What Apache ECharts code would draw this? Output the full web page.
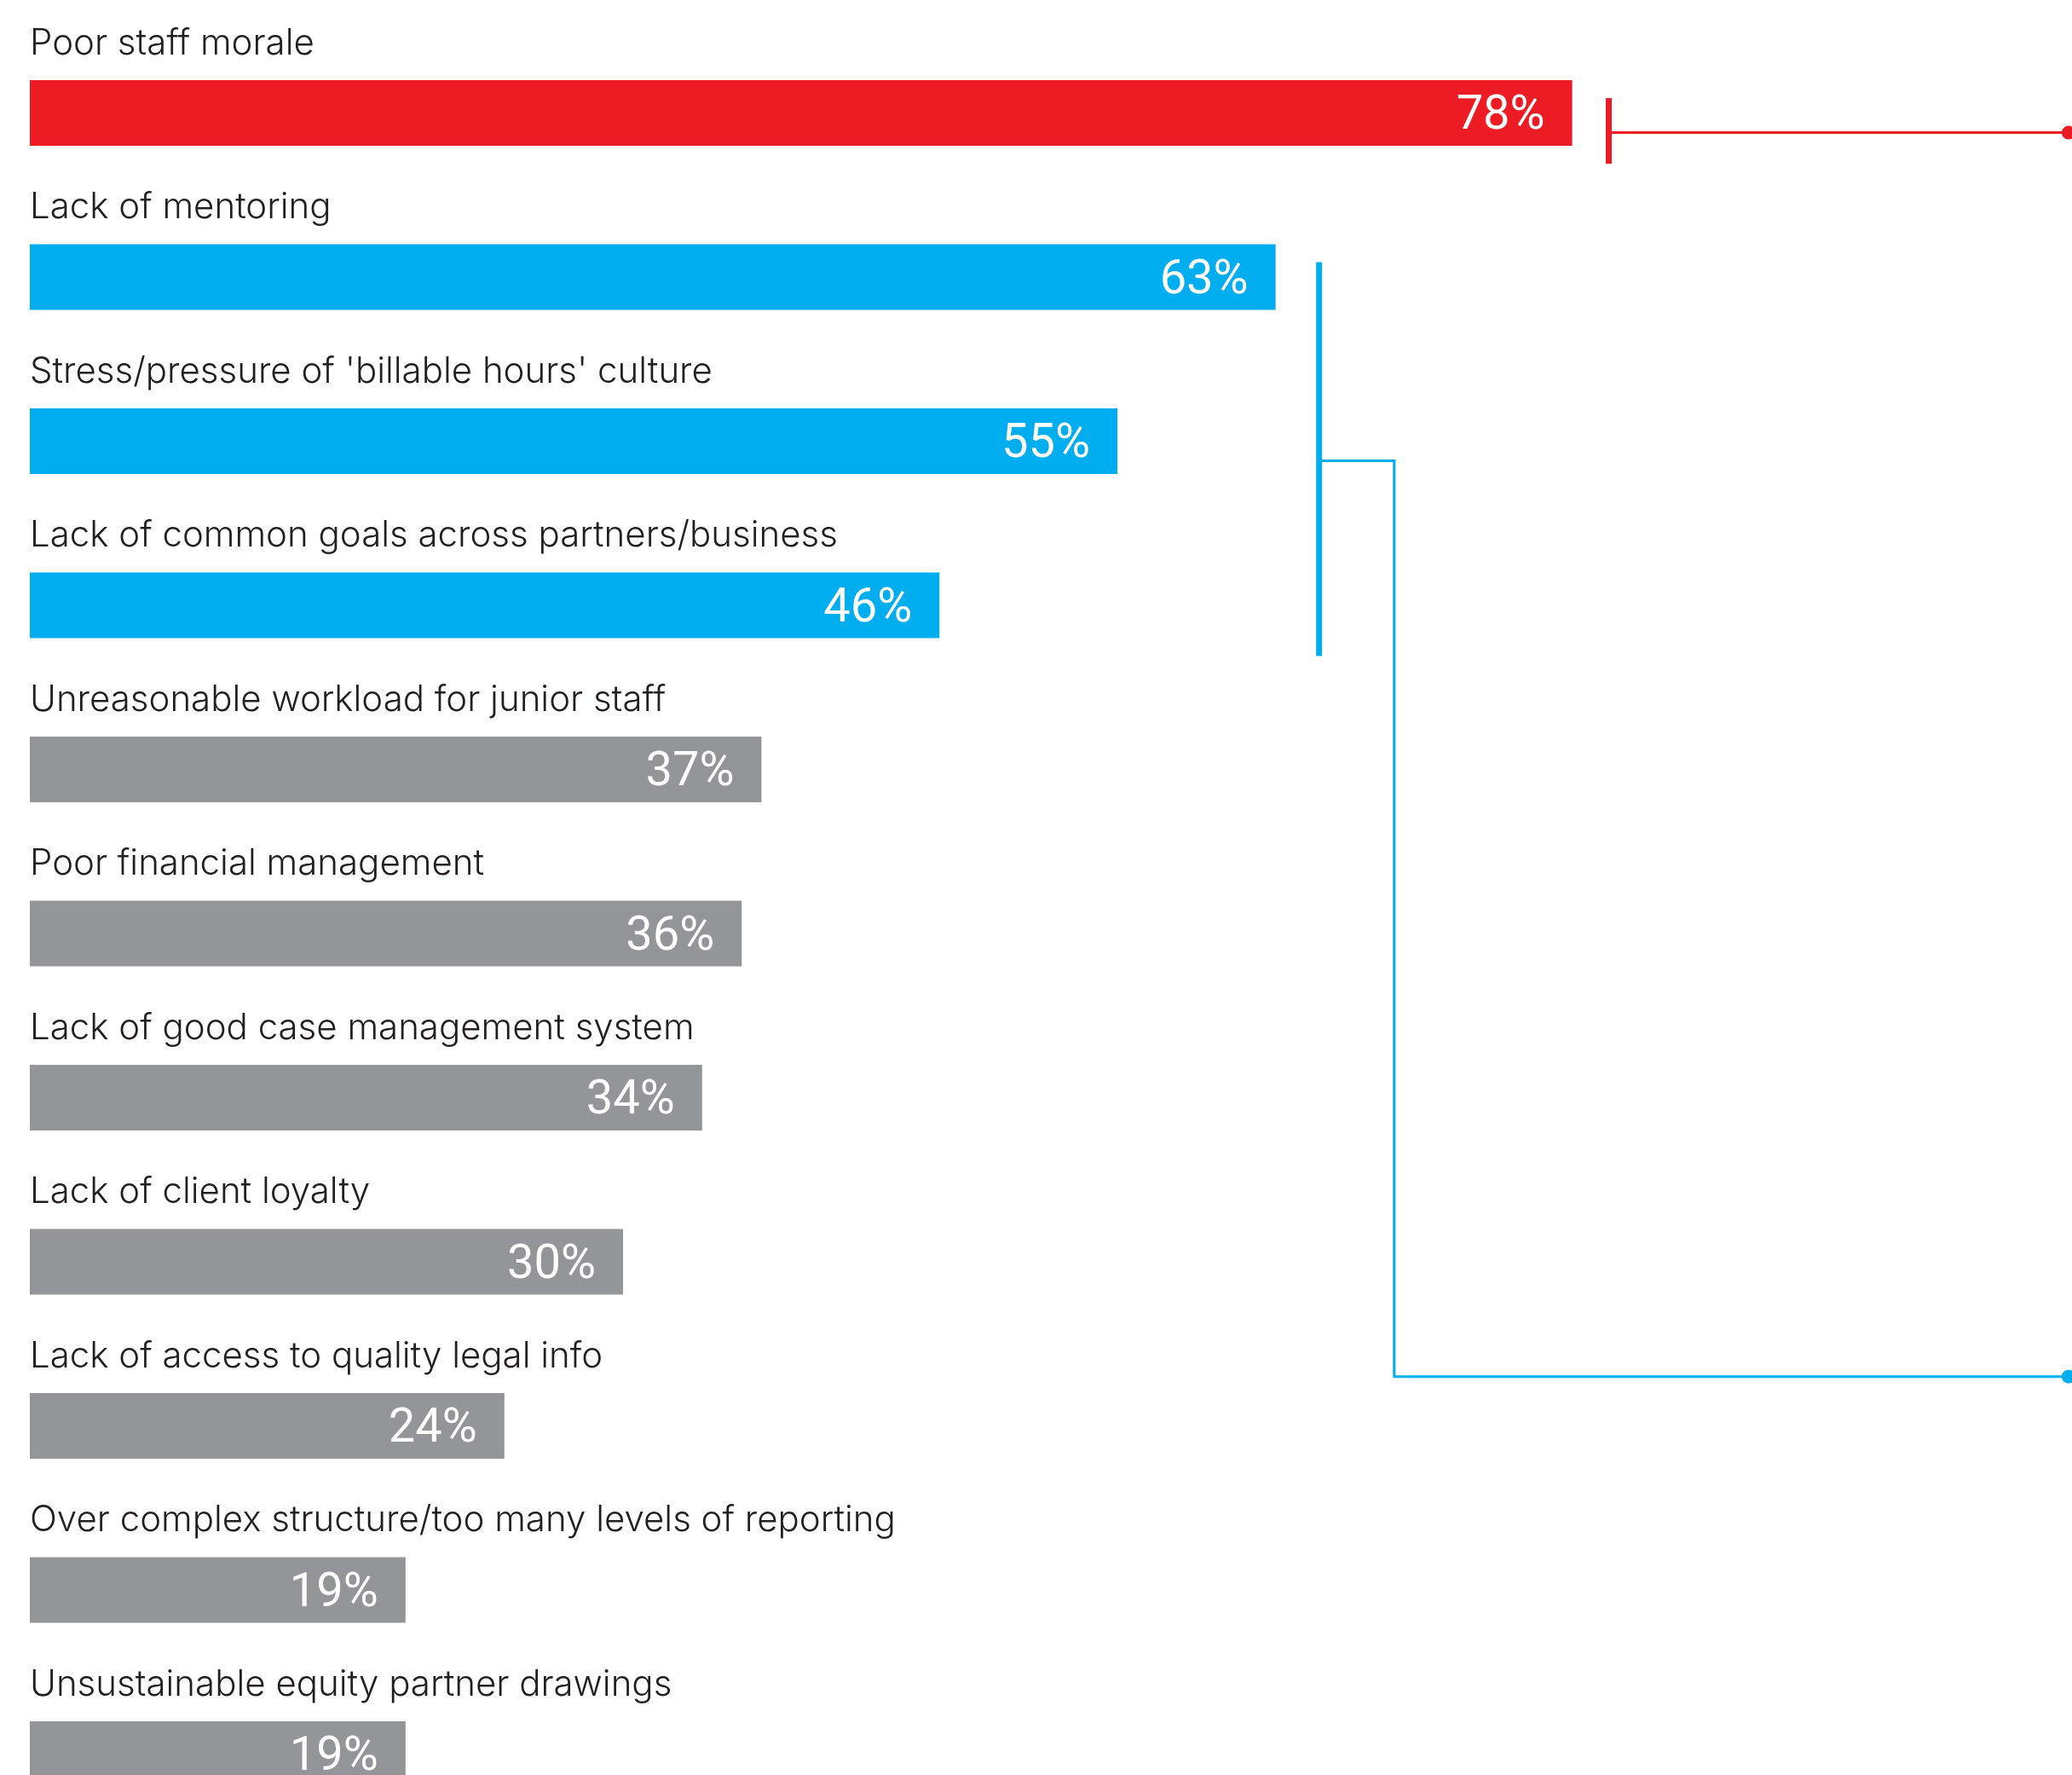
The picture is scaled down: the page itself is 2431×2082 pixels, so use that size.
<!DOCTYPE html>
<html>
<head>
<meta charset="utf-8">
<script src="https://cdn.jsdelivr.net/npm/echarts@6/dist/echarts.min.js"></script>
<style>
  html, body { margin: 0; padding: 0; background: #ffffff; }
  #chart { width: 2431px; height: 2082px; }
</style>
</head>
<body>
<div id="chart"></div>
<script>
// Reasons given, top to bottom
const categories = [
  'Poor staff morale',
  'Lack of mentoring',
  "Stress/pressure of 'billable hours' culture",
  'Lack of common goals across partners/business',
  'Unreasonable workload for junior staff',
  'Poor financial management',
  'Lack of good case management system',
  'Lack of client loyalty',
  'Lack of access to quality legal info',
  'Over complex structure/too many levels of reporting',
  'Unsustainable equity partner drawings'
];
// Share of respondents (%)
const values = [78, 63, 55, 46, 37, 36, 34, 30, 24, 19, 19];
// Group of each row: 'top' = leading reason, 'key' = bracketed group, 'other' = the rest
const groups = ['top', 'key', 'key', 'key', 'other', 'other', 'other', 'other', 'other', 'other', 'other'];

// Connector brackets: rows they span, where they stand on the value axis,
// and where the lead-out line leaves (row position) for the right margin.
const bracketFrom = [0, 1];
const bracketTo = [0, 3];
const bracketAt = [79.85, 65.2];
const elbowAt = [null, 69];
const exitRow = [null, 7.7];
const dotAt = 103.1;

const groupColor = { top: '#ED1C24', key: '#00AEEF', other: '#939598' };

const chart = echarts.init(document.getElementById('chart'), null, { renderer: 'canvas' });

const BAR_W = 77;

chart.setOption({
  animation: false,
  backgroundColor: '#ffffff',
  grid: {
    left: 35, width: 2320, top: 36.15, height: 192.5 * categories.length,
    outerBoundsMode: 'none', containLabel: false
  },
  xAxis: { type: 'value', min: 0, max: 100, show: false },
  yAxis: {
    type: 'category',
    inverse: true,
    data: categories,
    axisLine: { show: false },
    axisTick: { show: false },
    splitLine: { show: false },
    axisLabel: { show: false }
  },
  series: [
    {
      // category names, written just above each bar
      type: 'bar',
      barWidth: BAR_W,
      barGap: '-100%',
      silent: true,
      itemStyle: { color: 'rgba(0,0,0,0)' },
      data: values,
      label: {
        show: true,
        position: [0, -43],
        align: 'left',
        verticalAlign: 'middle',
        formatter: p => categories[p.dataIndex],
        color: '#231F20',
        fontFamily: 'Inter',
        fontWeight: 300,
        fontSize: 42
      }
    },
    {
      type: 'bar',
      barWidth: BAR_W,
      barGap: '-100%',
      data: values.map((v, i) => ({ value: v, itemStyle: { color: groupColor[groups[i]] } })),
      label: {
        show: true,
        position: 'insideRight',
        distance: 32,
        offset: [0, 5],
        formatter: p => p.value + '%',
        color: '#ffffff',
        fontFamily: 'Roboto',
        fontWeight: 400,
        fontSize: 56
      }
    },
    {
      type: 'custom',
      clip: false,
      silent: true,
      encode: { x: 0, y: 1 },
      data: bracketAt.map((x, i) => [x, bracketFrom[i]]),
      renderItem: function (params, api) {
        const i = params.dataIndex;
        const color = i === 0 ? groupColor.top : groupColor.key;
        const band = api.size([0, 1])[1];
        const off = band * 0.11;
        const x = api.coord([bracketAt[i], bracketFrom[i]])[0];
        const yTop = api.coord([bracketAt[i], bracketFrom[i]])[1] - BAR_W / 2 + off;
        const yBot = api.coord([bracketAt[i], bracketTo[i]])[1] + BAR_W / 2 + off;
        const yMid = (yTop + yBot) / 2 + 2;
        const xDot = api.coord([dotAt, 0])[0];
        const children = [
          { type: 'line', shape: { x1: x, y1: yTop, x2: x, y2: yBot },
            style: { stroke: color, lineWidth: 7 } }
        ];
        let yEnd = yMid;
        if (elbowAt[i] == null) {
          children.push({ type: 'line', shape: { x1: x, y1: yMid, x2: xDot, y2: yMid },
            style: { stroke: color, lineWidth: 3 } });
        } else {
          const xe = api.coord([elbowAt[i], 0])[0];
          const base = Math.floor(exitRow[i]);
          yEnd = api.coord([elbowAt[i], base])[1] + (exitRow[i] - base) * band;
          children.push({ type: 'polyline',
            shape: { points: [[x, yMid], [xe, yMid], [xe, yEnd], [xDot, yEnd]] },
            style: { stroke: color, lineWidth: 3, fill: null, lineJoin: 'miter' } });
        }
        children.push({ type: 'circle', shape: { cx: xDot, cy: yEnd, r: 8 },
          style: { fill: color } });
        return { type: 'group', children: children };
      }
    }
  ]
});
</script>
</body>
</html>
